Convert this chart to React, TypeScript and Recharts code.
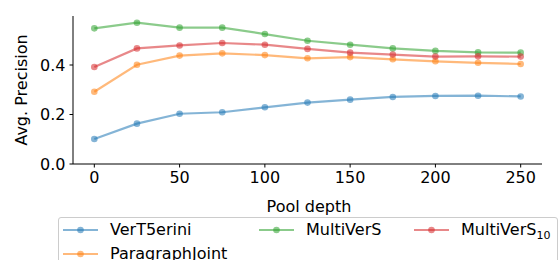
import React from 'react';
import { LineChart, Line, XAxis, YAxis } from 'recharts';

const depths = [0, 25, 50, 75, 100, 125, 150, 175, 200, 225, 250];
const verT5erini = [0.101, 0.163, 0.203, 0.209, 0.229, 0.248, 0.26, 0.271, 0.275, 0.276, 0.273];
const paragraphJoint = [0.292, 0.401, 0.438, 0.447, 0.44, 0.427, 0.432, 0.423, 0.415, 0.409, 0.404];
const multiVerS = [0.548, 0.571, 0.551, 0.551, 0.525, 0.498, 0.482, 0.467, 0.457, 0.451, 0.45];
const multiVerS10 = [0.392, 0.467, 0.479, 0.489, 0.482, 0.465, 0.45, 0.442, 0.434, 0.435, 0.434];
const xTicks = [0, 50, 100, 150, 200, 250];
const yTicks = [0, 0.2, 0.4];

const data = depths.map((d, i) => ({
  depth: d,
  vt: verT5erini[i],
  pj: paragraphJoint[i],
  mv: multiVerS[i],
  mv10: multiVerS10[i],
}));

const series = [
  { key: 'vt', color: '#1f77b4' },
  { key: 'pj', color: '#ff7f0e' },
  { key: 'mv', color: '#2ca02c' },
  { key: 'mv10', color: '#d62728' },
];

const FONT = '"DejaVu Sans", sans-serif';
const FS = 16;
const OP = 0.55;

const LegendItem = ({ color, left, top, children }: any) => (
  <div style={{ position: 'absolute', left, top, height: 20, display: 'flex', alignItems: 'center' }}>
    <svg width={35} height={10} style={{ overflow: 'visible' }}>
      <line x1={0} y1={5} x2={35} y2={5} stroke={color} strokeWidth={2} strokeOpacity={OP} />
      <circle cx={17.5} cy={5} r={3.3} fill={color} fillOpacity={OP} />
    </svg>
    <span style={{ marginLeft: 12, fontSize: FS, whiteSpace: 'nowrap', lineHeight: '20px' }}>{children}</span>
  </div>
);

export default function App() {
  return (
    <div style={{ position: 'absolute', left: 0, top: 0, width: 560, height: 260, overflow: 'hidden', background: '#fff', fontFamily: FONT, color: '#000' }}>
      <LineChart width={560} height={260} data={data} margin={{ top: 16, right: 18, bottom: 66, left: 0 }}>
        <XAxis
          dataKey="depth"
          type="number"
          domain={[-12.5, 262.5]}
          ticks={xTicks}
          allowDataOverflow
          height={30}
          stroke="#000"
          tickSize={3.5}
          tickMargin={4}
          tick={{ fill: '#000', fontSize: FS, fontFamily: FONT }}
          axisLine={{ stroke: '#000', strokeWidth: 1 }}
        />
        <YAxis
          type="number"
          domain={[0, 0.598]}
          ticks={yTicks}
          allowDataOverflow
          width={73}
          stroke="#000"
          tickSize={3.5}
          tickMargin={4}
          tickFormatter={(v: number) => v.toFixed(1)}
          tick={{ fill: '#000', fontSize: FS, fontFamily: FONT }}
          axisLine={{ stroke: '#000', strokeWidth: 1 }}
        />
        {series.map((s) => (
          <Line
            key={s.key}
            dataKey={s.key}
            type="linear"
            stroke={s.color}
            strokeWidth={2.2}
            strokeOpacity={OP}
            dot={{ r: 3.3, fill: s.color, fillOpacity: OP, stroke: 'none' }}
            activeDot={false}
            isAnimationActive={false}
          />
        ))}
      </LineChart>
      <div style={{ position: 'absolute', left: 21, top: 90, transform: 'translate(-50%, -50%) rotate(-90deg)', fontSize: FS, whiteSpace: 'nowrap' }}>
        Avg. Precision
      </div>
      <div style={{ position: 'absolute', left: 309, top: 206, transform: 'translate(-50%, -50%)', fontSize: FS, whiteSpace: 'nowrap' }}>
        Pool depth
      </div>
      <div style={{ position: 'absolute', left: 58, top: 217, width: 498, height: 80, border: '1px solid #ccc', borderRadius: 3, background: '#fff' }} />
      <LegendItem color="#1f77b4" left={63} top={220}>VerT5erini</LegendItem>
      <LegendItem color="#ff7f0e" left={63} top={244}>ParagraphJoint</LegendItem>
      <LegendItem color="#2ca02c" left={259} top={220}>MultiVerS</LegendItem>
      <LegendItem color="#d62728" left={414} top={220}>
        MultiVerS<sub style={{ fontSize: 11, lineHeight: 0 }}>10</sub>
      </LegendItem>
    </div>
  );
}
